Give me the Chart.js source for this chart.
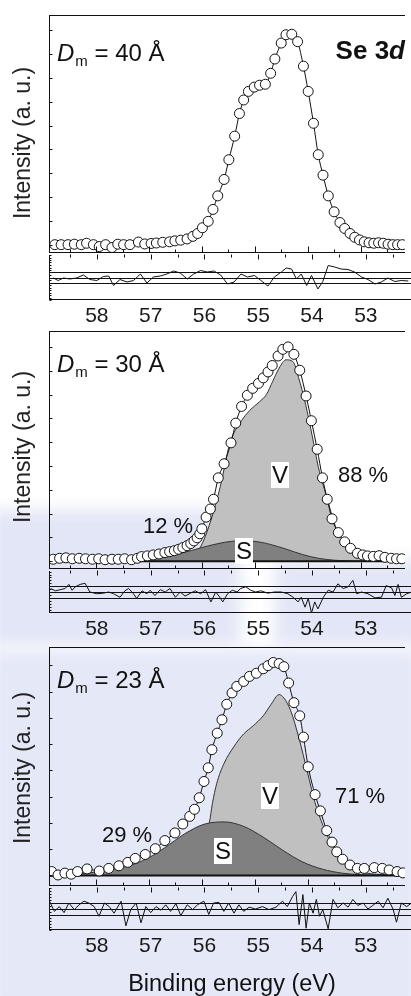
<!DOCTYPE html>
<html>
<head>
<meta charset="utf-8">
<script src="https://cdn.jsdelivr.net/npm/chart.js@4.4.1/dist/chart.umd.min.js"></script>
<style>
  html, body { margin: 0; padding: 0; background: #fff; }
  #page { position: relative; width: 411px; height: 996px; overflow: hidden;
          font-family: "Liberation Sans", Arial, sans-serif; color: #111; }
  #plots canvas { position: absolute; left: 0; }
  .wm { position: absolute; filter: blur(8px); }
  .t { position: absolute; white-space: nowrap; transform: translate(-50%, -50%); }
  .ylab { position: absolute; white-space: nowrap; font-size: 23px; color: #222;
          transform: translate(-50%, -50%) rotate(-90deg); }
  .dm { position: absolute; white-space: nowrap; font-size: 24px; line-height: 24px; }
  .dm i { font-style: italic; }
  .dm .sub { font-size: 15px; position: relative; top: 5px; margin-left: 1px; }
  .box { background: #fff; font-size: 24px; line-height: 26px; padding: 0 1px; }
  .pct { font-size: 22px; }
</style>
</head>
<body>
<div id="page">
  <!-- faint background stamp behind the lower panels -->
  <div class="wm" style="left:-10px; top:510px; width:250px; height:135px; background:#e2e6f6;"></div>
  <div class="wm" style="left:275px; top:560px; width:150px; height:85px; background:#e2e6f6;"></div>
  <div class="wm" style="left:-10px; top:650px; width:430px; height:360px; background:#e4e8f7;"></div>

  <div id="plots"></div>

  <div class="ylab" style="left:22px; top:143px;">Intensity (a. u.)</div>
  <div class="ylab" style="left:22px; top:447px;">Intensity (a. u.)</div>
  <div class="ylab" style="left:22px; top:768px;">Intensity (a. u.)</div>

  <div class="dm" style="left:57px; top:41px;"><i>D</i><span class="sub">m</span> = 40 Å</div>
  <div class="dm" style="left:57px; top:352px;"><i>D</i><span class="sub">m</span> = 30 Å</div>
  <div class="dm" style="left:57px; top:668px;"><i>D</i><span class="sub">m</span> = 23 Å</div>

  <div style="position:absolute; right:6px; top:37px; font-size:26px; line-height:26px; font-weight:bold;">Se 3<i>d</i></div>

  <div class="t box" style="left:280px; top:475px;">V</div>
  <div class="t box" style="left:244px; top:551px;">S</div>
  <div class="t pct" style="left:363px; top:475px;">88 %</div>
  <div class="t pct" style="left:168px; top:526px;">12 %</div>

  <div class="t box" style="left:270px; top:796px;">V</div>
  <div class="t box" style="left:223px; top:851px;">S</div>
  <div class="t pct" style="left:360px; top:796px;">71 %</div>
  <div class="t pct" style="left:127px; top:835px;">29 %</div>

  <div class="t" style="left:232px; top:983px; font-size:23.5px;">Binding energy (eV)</div>
</div>

<script>
// binding energy axis (eV), drawn reversed
const X_MIN = 52.16, X_MAX = 58.89;
const majorTicks = [58, 57, 56, 55, 54, 53];
const minorTicks = [58.5, 57.5, 56.5, 55.5, 54.5, 53.5, 52.5];

// ---- D_m = 40 A ----
const E1 = [58.78,58.66,58.53,58.41,58.28,58.18,58.05,57.94,57.82,57.70,57.59,57.48,57.36,57.20,57.08,
  56.96,56.86,56.74,56.61,56.51,56.40,56.28,56.17,56.08,55.99,55.88,55.79,55.70,55.58,55.49,
  55.38,55.29,55.21,55.12,55.01,54.91,54.80,54.70,54.62,54.50,54.41,54.30,54.19,54.08,53.99,
  53.89,53.80,53.71,53.61,53.50,53.39,53.30,53.20,53.11,53.02,52.93,52.84,52.75,52.66,52.57,
  52.48,52.39,52.30,52.21];
const I1 = [0,0,0,0.02,0,0.06,0,-0.08,0,-0.12,0.02,0,0,0.11,0.03,
  0.05,0.07,0.1,0.12,0.16,0.19,0.24,0.35,0.47,0.71,0.98,1.48,2.05,2.74,3.57,
  4.56,5.51,6.08,6.44,6.62,6.70,6.74,7.2,7.8,8.47,8.82,8.84,8.53,7.5,6.44,
  5.1,3.78,2.92,2.05,1.38,0.93,0.68,0.47,0.31,0.2,0.12,0.08,0.06,0.08,0.06,
  0.02,0,0,0];
const RE1 = [58.81,58.72,58.62,58.5,58.38,58.25,58.13,58.0,57.88,57.78,57.69,57.57,57.44,57.32,57.19,
  57.07,56.95,56.82,56.7,56.57,56.45,56.32,56.2,56.07,55.95,55.82,55.7,55.57,55.45,55.32,
  55.2,55.07,54.95,54.82,54.7,54.57,54.48,54.38,54.29,54.2,54.1,54.01,53.89,53.8,53.7,
  53.58,53.46,53.33,53.21,53.08,52.96,52.83,52.71,52.59,52.46,52.34,52.21];
const R1 = [-0.1,-0.6,-0.1,-0.3,-0.1,0.5,-0.4,-0.6,0.2,0.3,-1.6,-0.4,-0.9,-0.6,0.7,
  -1.1,0.1,0.3,0.7,1.3,0.9,-0.3,0.7,1.4,1.1,1.3,0.5,-1.3,-0.9,0.7,
  0.1,0.4,-0.6,-1.7,0.1,1.1,1.9,1.7,-0.3,0.7,-1.6,0.4,-2.3,-0.8,2.4,
  2.1,1.7,1.6,1.1,0.1,-0.4,-1.3,-0.9,-0.1,-0.8,-0.6,-0.7];

// ---- D_m = 30 A ----
const E2 = [58.81,58.69,58.57,58.45,58.32,58.20,58.07,57.95,57.83,57.70,57.58,57.46,57.33,57.22,57.14,
  57.03,56.92,56.81,56.70,56.61,56.52,56.44,56.36,56.28,56.21,56.15,56.09,56.04,56.00,55.92,
  55.84,55.78,55.69,55.58,55.45,55.36,55.25,55.14,55.04,54.93,54.84,54.75,54.67,54.56,54.47,
  54.37,54.26,54.15,54.03,53.93,53.82,53.72,53.63,53.54,53.42,53.30,53.19,53.06,52.96,52.87,
  52.76,52.65,52.54,52.42,52.32,52.22];
const I2 = [0.08,0.12,0.14,0.1,0.12,0.1,0.08,0.1,0.06,0.08,0.08,0.1,0.06,0.12,0.19,
  0.22,0.26,0.3,0.36,0.4,0.44,0.5,0.57,0.65,0.74,0.85,0.98,1.15,1.36,1.85,
  2.19,2.6,3.5,4.09,4.97,5.8,6.5,6.97,7.26,7.47,7.7,7.95,8.22,8.62,8.9,
  9.0,8.69,8.02,6.94,5.9,4.7,3.5,2.6,1.78,1.2,0.81,0.54,0.33,0.26,0.22,
  0.2,0.23,0.16,0.12,0.1,0.1];
const EV2 = [56.40,56.20,56.03,55.84,55.65,55.47,55.25,55.10,54.91,54.78,54.66,54.54,54.41,
  54.28,54.17,54.04,53.91,53.80,53.61,53.48,53.30,53.11,52.93,52.70,52.40,52.16];
const V2 = [0,0.25,0.58,1.64,3.15,4.96,5.9,6.32,6.7,7.0,7.56,8.11,8.46,
  8.39,7.7,6.6,5.22,3.98,2.47,1.5,0.74,0.33,0.15,0.05,0.02,0];
const ES2 = [57.6,57.2,56.8,56.4,56.0,55.6,55.3,55.0,54.7,54.4,54.1,53.8,53.5,53.2,52.8];
const S2 = [0,0.04,0.15,0.33,0.57,0.78,0.85,0.83,0.7,0.5,0.28,0.12,0.04,0.01,0];
const RE2 = [58.86,58.77,58.68,58.59,58.52,58.46,58.40,58.31,58.22,58.13,58.0,57.88,57.78,57.69,57.57,
  57.48,57.41,57.32,57.26,57.16,57.07,57.01,56.92,56.82,56.73,56.64,56.54,56.45,56.36,56.26,
  56.17,56.07,55.98,55.88,55.79,55.73,55.66,55.57,55.48,55.39,55.33,55.23,55.14,55.05,54.95,
  54.82,54.70,54.57,54.45,54.35,54.26,54.20,54.13,54.07,54.01,53.95,53.89,53.79,53.70,53.61,
  53.52,53.42,53.33,53.24,53.17,53.08,52.96,52.83,52.71,52.62,52.52,52.46,52.40,52.34,52.24,52.15];
const R2 = [0.6,0.2,0.4,0.6,1.3,0.3,0.9,1.3,1.5,0,-0.3,-0.2,0,-0.3,-0.9,
  0.2,0.6,-0.3,-1.1,0.2,-0.3,0.3,-0.6,0.4,0,0.6,-0.9,0,-0.7,-0.2,
  0.2,-0.3,0.4,-1.7,0,-0.7,-1.7,-0.3,0.3,0,0.6,0.9,0.3,0,0.2,
  -0.2,0,0,-0.3,-0.9,-1.7,-0.9,-2.6,-1.1,-3.6,-1.7,-2.9,-0.9,0.3,0,
  1.4,0.6,0.9,2.0,-0.3,0,-0.3,-1.0,-0.9,1.1,0.7,-0.6,1.3,-0.9,-0.3,0];

// ---- D_m = 23 A ----
const E3 = [58.84,58.72,58.59,58.47,58.35,58.17,57.94,57.76,57.57,57.40,57.26,57.07,56.88,56.70,56.51,
  56.36,56.23,56.14,56.05,55.96,55.88,55.81,55.71,55.62,55.53,55.43,55.34,55.21,55.10,54.97,
  54.84,54.75,54.65,54.54,54.45,54.36,54.26,54.15,54.08,53.99,53.86,53.76,53.64,53.54,53.45,
  53.34,53.20,53.06,52.93,52.74,52.59,52.46,52.31,52.20];
const I3 = [0.15,0.02,0.09,0.05,0.15,0.25,0.17,0.27,0.37,0.5,0.65,0.8,1.02,1.33,1.62,
  1.96,2.25,2.52,2.96,3.58,4.1,4.79,5.42,5.93,6.52,6.95,7.2,7.39,7.58,7.7,
  7.87,7.99,8.11,8.07,7.95,7.33,6.58,6.08,5.27,4.14,3.08,2.46,1.71,1.27,0.9,
  0.62,0.4,0.27,0.27,0.3,0.27,0.21,0.15,0.1];
const EV3 = [56.30,56.10,55.96,55.86,55.80,55.72,55.58,55.40,55.21,55.03,54.84,54.69,54.54,54.45,
  54.32,54.17,54.00,53.86,53.71,53.54,53.35,53.11,52.90,52.50,52.16];
const V3 = [0,0.8,1.5,2.0,2.75,3.5,4.27,4.89,5.39,5.7,6.08,6.52,6.89,6.76,
  6.27,5.27,3.9,2.77,1.9,1.15,0.65,0.27,0.1,0.03,0];
const ES3 = [58.8,58.4,57.94,57.6,57.33,57.0,56.70,56.33,55.96,55.58,55.21,54.84,54.47,54.10,53.72,53.35,53.0,52.5];
const S3 = [0.01,0.05,0.15,0.27,0.4,0.68,1.06,1.58,1.95,2.04,1.87,1.46,0.96,0.52,0.24,0.09,0.03,0.01];
const RE3 = [58.88,58.79,58.70,58.61,58.52,58.42,58.33,58.24,58.15,58.05,57.96,57.86,57.77,57.68,57.55,
  57.46,57.37,57.27,57.18,57.09,57.0,56.90,56.81,56.72,56.63,56.53,56.44,56.32,56.22,56.13,
  56.01,55.92,55.83,55.73,55.64,55.55,55.45,55.36,55.27,55.17,55.05,54.92,54.80,54.67,54.55,
  54.46,54.36,54.30,54.24,54.17,54.11,54.05,53.98,53.92,53.86,53.80,53.70,53.61,53.52,53.42,
  53.33,53.24,53.15,53.05,52.96,52.87,52.77,52.68,52.59,52.49,52.43,52.34,52.24,52.15];
const R3 = [1.3,-0.4,0.4,-0.6,1.0,-0.1,0.7,1.3,1.0,0.4,-1.2,1.0,0.4,-0.7,1.3,
  -2.8,-0.1,1.0,-2.3,0.4,-0.6,0.4,-0.2,0.7,-0.4,0.9,-1.1,0.7,-0.1,0.7,
  1.3,-0.9,1.0,1.1,-0.4,1.0,-0.7,0.7,-0.4,0.3,0,0.4,-0.1,0.3,1.3,
  0.4,2.1,2.9,-2.6,2.4,-3.2,1.0,-0.7,1.6,-1.2,-0.1,-3.3,1.6,0.2,1.0,
  0.3,1.6,0.6,1.0,0,0.6,1.3,0.2,1.8,-0.1,-2.2,1.0,0.4,1.0];

// page positions of each panel: frame top, shared axis line, residual bottom
const panels = [
  { top: 13,  axis: 255, bottom: 300, yMin: -0.35, yMax: 9.65, rLim: 4.5,
    E: E1, I: I1, RE: RE1, R: R1 },
  { top: 329, axis: 571, bottom: 613, yMin: -0.33, yMax: 9.67, rLim: 3.6,
    E: E2, I: I2, EV: EV2, V: V2, ES: ES2, S: S2, RE: RE2, R: R2 },
  { top: 645, axis: 888, bottom: 930, yMin: -0.4, yMax: 8.7, rLim: 3.5,
    E: E3, I: I3, EV: EV3, V: V3, ES: ES3, S: S3, RE: RE3, R: R3 }
];

const PAD = 4;
const FONT = '"Liberation Sans", Arial, sans-serif';

function pts(xs, ys) {
  return xs.map((x, i) => ({ x: x, y: ys[i] }));
}

function makeCanvas(top, height) {
  const c = document.createElement('canvas');
  c.width = 411;
  c.height = height;
  c.style.top = top + 'px';
  c.style.width = '411px';
  c.style.height = height + 'px';
  document.getElementById('plots').appendChild(c);
  return c;
}

// frame, inward ticks, reference lines and tick labels
const axesPlugin = {
  id: 'axes',
  beforeDatasetsDraw(chart, args, o) {
    if (!o.refLines) return;
    const { ctx, chartArea: a, scales: { y } } = chart;
    ctx.save();
    ctx.strokeStyle = '#111';
    ctx.lineWidth = 1;
    ctx.beginPath();
    o.refLines.forEach(v => {
      const py = Math.round(y.getPixelForValue(v)) + 0.5;
      ctx.moveTo(a.left, py);
      ctx.lineTo(a.right, py);
    });
    ctx.stroke();
    ctx.restore();
  },
  afterDraw(chart, args, o) {
    const { ctx, chartArea: a, scales: { x, y } } = chart;
    const L = Math.round(a.left) + 0.5;
    const T = Math.round(a.top) + 0.5;
    const B = Math.round(a.bottom) - 0.5;
    ctx.save();
    ctx.strokeStyle = '#111';
    ctx.lineWidth = 1;
    ctx.beginPath();
    if (o.top) { ctx.moveTo(L, T); ctx.lineTo(a.right, T); }
    ctx.moveTo(L, a.top); ctx.lineTo(L, a.bottom);
    ctx.moveTo(L, B); ctx.lineTo(a.right, B);
    o.yTicks.forEach(v => {
      const py = Math.round(y.getPixelForValue(v)) + 0.5;
      ctx.moveTo(L, py); ctx.lineTo(L + o.yTickLen, py);
    });
    const dir = o.xTickEdge === 'bottom' ? -1 : 1;
    const y0 = o.xTickEdge === 'bottom' ? B : Math.round(a.top) - 0.5;
    majorTicks.forEach(v => {
      const px = Math.round(x.getPixelForValue(v)) + 0.5;
      ctx.moveTo(px, y0); ctx.lineTo(px, y0 + dir * o.majorLen);
    });
    minorTicks.forEach(v => {
      const px = Math.round(x.getPixelForValue(v)) + 0.5;
      ctx.moveTo(px, y0); ctx.lineTo(px, y0 + dir * o.minorLen);
    });
    ctx.stroke();
    if (o.labels) {
      ctx.fillStyle = '#1a1a1a';
      ctx.font = '21px ' + FONT;
      ctx.textAlign = 'center';
      ctx.textBaseline = 'middle';
      majorTicks.forEach(v => {
        ctx.fillText(String(v), x.getPixelForValue(v), a.bottom + 16);
      });
    }
    ctx.restore();
  }
};

function baseOptions(yMin, yMax, padBottom, axesOpts) {
  return {
    responsive: false,
    animation: false,
    events: [],
    layout: { padding: { left: 49, right: 0, top: PAD, bottom: padBottom } },
    scales: {
      x: { type: 'linear', reverse: true, min: X_MIN, max: X_MAX, display: false },
      y: { type: 'linear', min: yMin, max: yMax, display: false }
    },
    plugins: { legend: { display: false }, tooltip: { enabled: false }, axes: axesOpts }
  };
}

panels.forEach((p, k) => {
  // main spectrum
  const sets = [{
    data: pts(p.E, p.I),
    borderColor: '#111', borderWidth: 1,
    pointRadius: 5, pointBackgroundColor: '#fff', pointBorderColor: '#111', pointBorderWidth: 1,
    cubicInterpolationMode: 'monotone', fill: false, order: 0
  }];
  if (p.V) {
    sets.push({
      data: [{ x: X_MAX, y: 0 }, { x: X_MIN, y: 0 }],
      borderColor: '#111', borderWidth: 2, pointRadius: 0, fill: false, order: 1
    });
    sets.push({
      data: pts(p.ES, p.S),
      borderColor: '#333', borderWidth: 1, backgroundColor: '#808080',
      pointRadius: 0, cubicInterpolationMode: 'monotone', fill: 'origin', order: 2
    });
    sets.push({
      data: pts(p.EV, p.V),
      borderColor: '#333', borderWidth: 1, backgroundColor: '#c0c0c0',
      pointRadius: 0, cubicInterpolationMode: 'monotone', fill: 'origin', order: 3
    });
  }
  const yTicks = [];
  for (let v = 0; v <= p.yMax; v++) yTicks.push(v);
  const mainH = p.axis - p.top + 2 * PAD;
  new Chart(makeCanvas(p.top - PAD, mainH), {
    type: 'line',
    data: { datasets: sets },
    options: baseOptions(p.yMin, p.yMax, PAD, {
      top: true, yTicks: yTicks, yTickLen: 3,
      xTickEdge: 'bottom', majorLen: 6, minorLen: 3, labels: false
    }),
    plugins: [axesPlugin]
  });

  // residual strip
  const rTicks = [];
  for (let v = -Math.floor(p.rLim * 2) / 2; v <= p.rLim; v += 0.5) rTicks.push(v);
  const resH = p.bottom - p.axis + PAD + 34;
  new Chart(makeCanvas(p.axis - PAD, resH), {
    type: 'line',
    data: {
      datasets: [{
        data: pts(p.RE, p.R),
        borderColor: '#111', borderWidth: 1, pointRadius: 0, tension: 0, fill: false
      }]
    },
    options: baseOptions(-p.rLim, p.rLim, 34, {
      top: false, yTicks: rTicks, yTickLen: 2, refLines: [-1, 0, 1],
      xTickEdge: 'top', majorLen: 5, minorLen: 3, labels: true
    }),
    plugins: [axesPlugin]
  });
});
</script>
</body>
</html>
